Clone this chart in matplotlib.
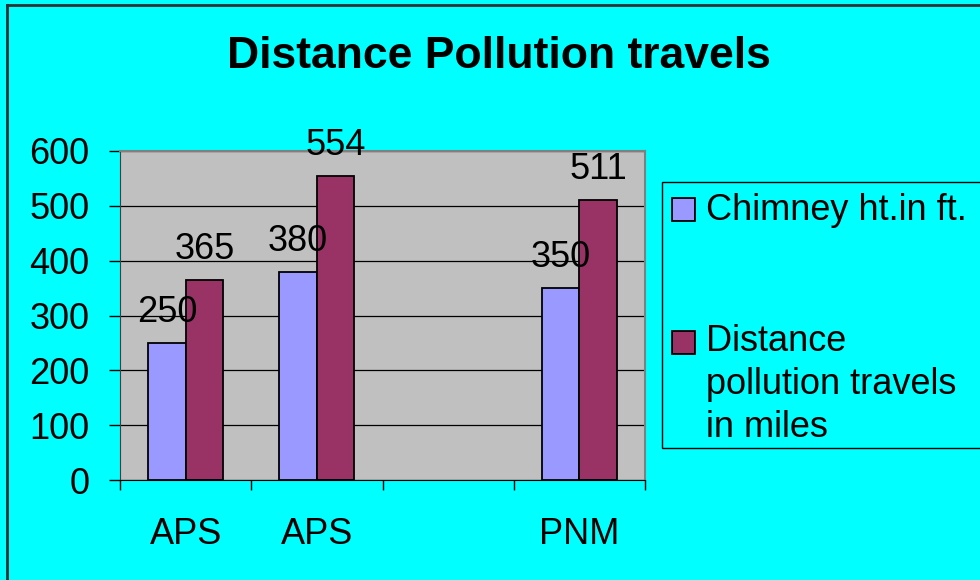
import numpy as np
import matplotlib.pyplot as plt
from matplotlib.patches import Rectangle
from matplotlib.lines import Line2D

plt.rcParams['font.family'] = ['Liberation Sans', 'DejaVu Sans']

# data
categories = ['APS', 'APS', '', 'PNM']
chimney_ht = [250, 380, None, 350]
distance = [365, 554, None, 511]
series_names = ['Chimney ht.in ft.', 'Distance\npollution travels\nin miles']
colors = ['#9999FF', '#993366']

W, H = 980, 580
fig = plt.figure(figsize=(W / 100, H / 100), dpi=100, facecolor='#00FFFF')

# plot area
ax = fig.add_axes([120 / W, 1 - 480 / H, 525 / W, 329 / H])
ax.set_facecolor('#C0C0C0')

x = np.arange(len(categories))
bw = 0.286
for vals, off, col in [(chimney_ht, -bw / 2, colors[0]), (distance, bw / 2, colors[1])]:
    for xi, v in zip(x, vals):
        if v is None:
            continue
        ax.bar(xi + off, v, width=bw, color=col, edgecolor='black', linewidth=1.3, zorder=3)
        ax.annotate(str(v), (xi + off, v), xytext=(0, 15), textcoords='offset points',
                    ha='center', va='baseline', fontsize=26, zorder=4)

ax.set_xlim(-0.5, len(categories) - 0.5)
ax.set_ylim(0, 600)
ax.set_yticks(range(0, 601, 100))
ax.yaxis.grid(True, color='black', linewidth=0.9, zorder=1)
ax.tick_params(axis='y', labelsize=26, length=8, width=1, pad=14, direction='out')

ax.set_xticks(x)
ax.set_xticklabels(categories)
ax.set_xticks(np.arange(-0.5, len(categories), 1.0), minor=True)
ax.tick_params(axis='x', which='major', length=0, labelsize=26, pad=27)
ax.tick_params(axis='x', which='minor', length=7.5, width=1, direction='out')

for s in ['top', 'right']:
    ax.spines[s].set_color('#808080')
    ax.spines[s].set_linewidth(1.5)
ax.spines['left'].set_color('#404040')
ax.spines['bottom'].set_color('black')

# title
fig.text(499 / W, 1 - 68 / H, 'Distance Pollution travels', ha='center', va='baseline',
         fontsize=32, fontweight='bold')

# legend box
fig.patches.append(Rectangle((662 / W, 1 - 448 / H), 330 / W, 266 / H, transform=fig.transFigure,
                             facecolor='none', edgecolor='black', linewidth=1))
sq = 23
# (square top, baseline of the last text line) in pixels from the top
for (ytop, base), name, col in zip([(198, 220), (331, 437)], series_names, colors):
    fig.patches.append(Rectangle((672 / W, 1 - (ytop + sq) / H), sq / W, sq / H,
                                 transform=fig.transFigure, facecolor=col,
                                 edgecolor='black', linewidth=1.3))
    fig.text(706 / W, 1 - base / H, name, ha='left', va='baseline', fontsize=26,
             linespacing=1.3)

# outer border (left and top)
fig.add_artist(Line2D([7 / W, 7 / W], [0, 1 - 5 / H], color='#303030', linewidth=2))
fig.add_artist(Line2D([7 / W, 1], [1 - 5 / H, 1 - 5 / H], color='#303030', linewidth=2))

fig.savefig('out.png', dpi=100, facecolor=fig.get_facecolor())
